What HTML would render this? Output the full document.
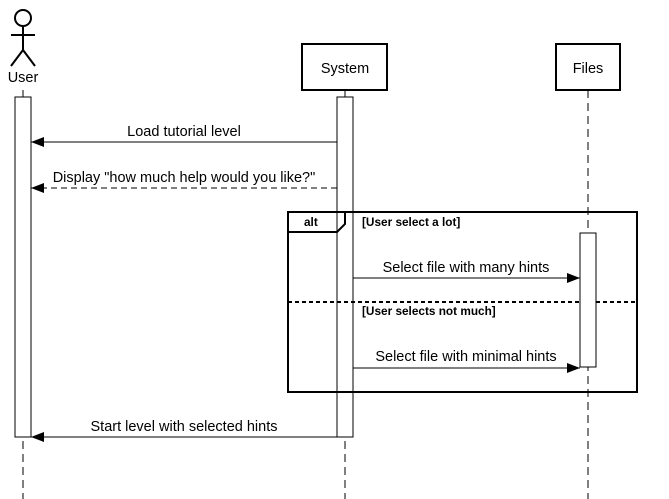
<!DOCTYPE html>
<html><head><style>body{margin:0;background:#fff}svg{display:block}</style></head><body>
<svg width="669" height="499" viewBox="0 0 669 499" xmlns="http://www.w3.org/2000/svg" font-family="Liberation Sans, Arial, sans-serif">
<defs><marker id="a" markerWidth="14" markerHeight="10" refX="13" refY="5" orient="auto" markerUnits="userSpaceOnUse"><path d="M0,0 L13,5 L0,10 Z" fill="#000"/></marker></defs>
<g stroke="#000" fill="none">
<line x1="23" y1="90" x2="23" y2="499" stroke-dasharray="8,5"/>
<line x1="345" y1="90" x2="345" y2="499" stroke-dasharray="8,5"/>
<line x1="588" y1="90" x2="588" y2="499" stroke-dasharray="8,5"/>
<circle cx="23" cy="18" r="8" stroke-width="2"/>
<line x1="23" y1="26" x2="23" y2="50" stroke-width="2"/>
<line x1="11" y1="35" x2="35" y2="35" stroke-width="2"/>
<line x1="23" y1="50" x2="11" y2="66" stroke-width="2"/>
<line x1="23" y1="50" x2="35" y2="66" stroke-width="2"/>
<rect x="302" y="44" width="85" height="46" stroke-width="2" fill="#fff"/>
<rect x="556" y="44" width="64" height="46" stroke-width="2" fill="#fff"/>
<rect x="15" y="97" width="16" height="340" fill="#fff"/>
<rect x="337" y="97" width="16" height="340" fill="#fff"/>
<rect x="288" y="212" width="349" height="180" stroke-width="2"/>
<path d="M288,232 L337,232 L345,224 L345,212" stroke-width="2"/>
<line x1="288" y1="302" x2="637" y2="302" stroke-width="2" stroke-dasharray="4,3"/>
<rect x="580" y="233" width="16" height="134" fill="#fff"/>
<line x1="337" y1="142" x2="31" y2="142" marker-end="url(#a)"/>
<line x1="337" y1="188" x2="31" y2="188" stroke-dasharray="6,4" marker-end="url(#a)"/>
<line x1="353" y1="278" x2="580" y2="278" marker-end="url(#a)"/>
<line x1="353" y1="368" x2="580" y2="368" marker-end="url(#a)"/>
<line x1="337" y1="437" x2="31" y2="437" marker-end="url(#a)"/>
</g>
<g font-size="14.5" fill="#000" text-anchor="middle">
<text x="23" y="82">User</text>
<text x="345" y="73">System</text>
<text x="588" y="73">Files</text>
<text x="184" y="136">Load tutorial level</text>
<text x="184" y="182">Display "how much help would you like?"</text>
<text x="466" y="272">Select file with many hints</text>
<text x="466" y="361">Select file with minimal hints</text>
<text x="184" y="431">Start level with selected hints</text>
</g>
<g font-size="11.8" font-weight="bold" fill="#000">
<text x="304" y="226">alt</text>
<text x="362" y="226">[User select a lot]</text>
<text x="362" y="315">[User selects not much]</text>
</g>
</svg>
</body></html>
